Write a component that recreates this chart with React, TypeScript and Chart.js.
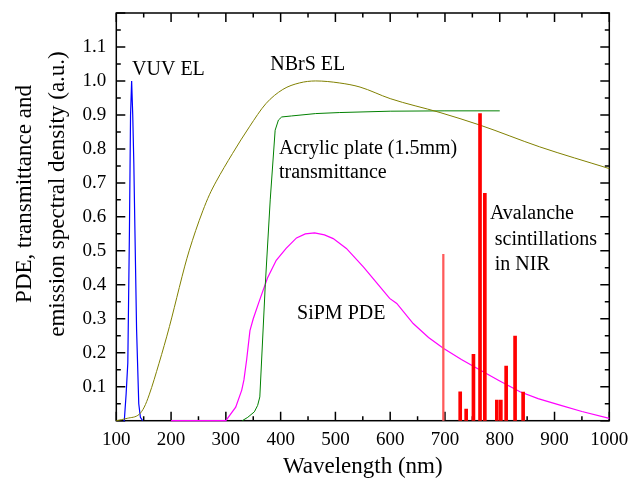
import React, { useEffect, useRef } from 'react';
import { Chart, registerables } from 'chart.js';

Chart.register(...registerables);

const FONT = '"Liberation Serif", "Times New Roman", serif';

// ---- data ----
const vuvWavelength = [113, 114.6, 118, 121, 124, 126, 128, 130, 132, 134, 137, 141, 144, 148];
const vuvIntensity = [0, 0, 0.08, 0.17, 0.56, 0.9, 1.0, 0.9, 0.757, 0.56, 0.27, 0.05, 0.01, 0];

const nbrsWavelength = [100, 120, 142, 151, 160, 178, 197, 215, 225, 233, 245, 258, 270, 282, 312, 343, 373, 404, 434, 464, 508, 545, 600, 691, 764, 873, 1000];
const nbrsIntensity = [0, 0.007, 0.019, 0.04, 0.076, 0.169, 0.277, 0.392, 0.455, 0.5, 0.56, 0.618, 0.665, 0.703, 0.786, 0.865, 0.933, 0.975, 0.994, 1.0, 0.994, 0.982, 0.948, 0.907, 0.87, 0.806, 0.742];

const acrylicWavelength = [330, 340, 352, 358, 362, 372, 381, 390, 396, 402, 420, 464, 508, 600, 700, 800];
const acrylicTransmittance = [0, 0.01, 0.026, 0.045, 0.07, 0.4, 0.65, 0.855, 0.885, 0.894, 0.897, 0.904, 0.907, 0.911, 0.912, 0.912];

const pdeWavelength = [200, 300, 318, 329, 333, 338, 344, 350, 361, 376, 392, 410, 429, 445, 462, 480, 496, 520, 551, 580, 599, 612, 642, 670, 697, 730, 764, 800, 837, 870, 910, 950, 1000];
const pdeValue = [0, 0, 0.04, 0.09, 0.12, 0.18, 0.265, 0.3, 0.352, 0.42, 0.472, 0.507, 0.538, 0.55, 0.553, 0.547, 0.536, 0.507, 0.453, 0.397, 0.36, 0.345, 0.286, 0.245, 0.213, 0.18, 0.149, 0.117, 0.085, 0.065, 0.046, 0.027, 0.007];

const nirLineWavelength = [727.8, 738.7, 752, 764, 772.8, 794.7, 802, 811.7, 828, 842.7];
const nirLineIntensity = [0.085, 0.034, 0.195, 0.904, 0.669, 0.061, 0.061, 0.161, 0.249, 0.084];
const nirWeakWavelength = [697];
const nirWeakIntensity = [0.49];

const X_MIN = 100, X_MAX = 1000, X_STEP = 100, X_MINOR = 50;
const Y_MIN = 0, Y_MAX = 1.2, Y_STEP = 0.1;

const annotations = [
  { text: 'VUV EL', x: 128.8, y: 1.017 },
  { text: 'NBrS EL', x: 381, y: 1.033 },
  { text: 'Acrylic plate (1.5mm)', x: 397, y: 0.786 },
  { text: 'transmittance', x: 397, y: 0.713 },
  { text: 'SiPM PDE', x: 430, y: 0.298 },
  { text: 'Avalanche', x: 782, y: 0.593 },
  { text: 'scintillations', x: 791, y: 0.517 },
  { text: 'in NIR', x: 791, y: 0.443 },
];
const yTitleLines = ['PDE, transmittance and', 'emission spectral density (a.u.)'];
const xTitle = 'Wavelength (nm)';

const zip = (xs: number[], ys: number[]) => xs.map((x, i) => ({ x, y: ys[i] }));

const framePlugin = {
  id: 'frameTicks',
  beforeDatasetsDraw(chart: any) {
    const { ctx, chartArea: a, scales } = chart;
    const x = scales.x, y = scales.y;
    const MAJOR = 9, MINOR = 4.5;
    ctx.save();
    ctx.strokeStyle = '#000';
    ctx.lineWidth = 1.5;
    ctx.beginPath();
    const nx = Math.round((X_MAX - X_MIN) / X_MINOR);
    for (let i = 0; i <= nx; i++) {
      const v = X_MIN + i * X_MINOR;
      const px = x.getPixelForValue(v);
      const len = i % 2 === 0 ? MAJOR : MINOR;
      ctx.moveTo(px, a.bottom); ctx.lineTo(px, a.bottom - len);
      ctx.moveTo(px, a.top); ctx.lineTo(px, a.top + len);
    }
    const ny = Math.round((Y_MAX - Y_MIN) / (Y_STEP / 2));
    for (let i = 0; i <= ny; i++) {
      const v = Y_MIN + i * (Y_STEP / 2);
      const py = y.getPixelForValue(v);
      const len = i % 2 === 0 ? MAJOR : MINOR;
      ctx.moveTo(a.left, py); ctx.lineTo(a.left + len, py);
      ctx.moveTo(a.right, py); ctx.lineTo(a.right - len, py);
    }
    ctx.stroke();
    ctx.strokeRect(a.left, a.top, a.right - a.left, a.bottom - a.top);
    ctx.restore();
  },
  afterDraw(chart: any) {
    const { ctx, scales } = chart;
    const x = scales.x, y = scales.y;
    ctx.save();
    ctx.fillStyle = '#000';
    ctx.font = `20px ${FONT}`;
    ctx.textAlign = 'left';
    ctx.textBaseline = 'alphabetic';
    annotations.forEach((an) => {
      ctx.fillText(an.text, x.getPixelForValue(an.x), y.getPixelForValue(an.y));
    });
    // y-axis title
    ctx.font = `23px ${FONT}`;
    ctx.textAlign = 'center';
    const cy = 194;
    const baselines = [31, 63.5];
    yTitleLines.forEach((line, i) => {
      ctx.save();
      ctx.translate(baselines[i], cy);
      ctx.rotate(-Math.PI / 2);
      ctx.fillText(line, 0, 0);
      ctx.restore();
    });
    ctx.restore();
  },
};

const zeroPad = (s: any) => {
  s.paddingLeft = 0;
  s.paddingRight = 0;
  s.paddingTop = 0;
  s.paddingBottom = 0;
};

export default function App() {
  const ref = useRef<HTMLCanvasElement | null>(null);
  useEffect(() => {
    if (!ref.current) return;
    const chart = new Chart(ref.current, {
      type: 'line',
      data: {
        datasets: [
          {
            type: 'bar',
            label: 'NIR weak',
            data: zip(nirWeakWavelength, nirWeakIntensity),
            backgroundColor: '#ff5a5a',
            borderWidth: 0,
            barThickness: 1.6,
            grouped: false,
          } as any,
          {
            type: 'bar',
            label: 'Avalanche scintillations in NIR',
            data: zip(nirLineWavelength, nirLineIntensity),
            backgroundColor: '#ff0000',
            borderWidth: 0,
            barThickness: 3,
            grouped: false,
          } as any,
          {
            label: 'NBrS EL',
            data: zip(nbrsWavelength, nbrsIntensity),
            borderColor: '#808000',
            borderWidth: 1,
            pointRadius: 0,
            cubicInterpolationMode: 'monotone',
            clip: false,
          },
          {
            label: 'Acrylic',
            data: zip(acrylicWavelength, acrylicTransmittance),
            borderColor: '#008000',
            borderWidth: 1,
            pointRadius: 0,
            tension: 0,
            clip: false,
          },
          {
            label: 'SiPM PDE',
            data: zip(pdeWavelength, pdeValue),
            borderColor: '#ff00ff',
            borderWidth: 1.2,
            pointRadius: 0,
            tension: 0,
            clip: false,
          },
          {
            label: 'VUV EL',
            data: zip(vuvWavelength, vuvIntensity),
            borderColor: '#0000ff',
            borderWidth: 1.2,
            pointRadius: 0,
            tension: 0,
            clip: false,
          },
        ],
      },
      options: {
        animation: false,
        responsive: false,
        devicePixelRatio: 1,
        layout: { padding: { top: 13, right: 22.7, left: 0, bottom: 0 } },
        plugins: { legend: { display: false }, tooltip: { enabled: false } },
        scales: {
          x: {
            type: 'linear',
            min: X_MIN,
            max: X_MAX,
            offset: false,
            grid: { display: false, drawTicks: false },
            border: { display: false },
            ticks: {
              stepSize: X_STEP,
              autoSkip: false,
              maxRotation: 0,
              padding: 8,
              color: '#000',
              font: { family: FONT, size: 19 },
              callback: (v: any) => String(Math.round(Number(v))),
            },
            title: {
              display: true,
              text: xTitle,
              color: '#000',
              font: { family: FONT, size: 23, lineHeight: 1 },
              padding: { top: 0, bottom: 1.5 },
            },
            afterFit: (s: any) => { s.height = 59.3; zeroPad(s); },
          },
          y: {
            type: 'linear',
            min: Y_MIN,
            max: Y_MAX,
            grid: { display: false, drawTicks: false },
            border: { display: false },
            ticks: {
              stepSize: Y_STEP,
              autoSkip: false,
              padding: 10,
              color: '#000',
              font: { family: FONT, size: 19 },
              callback: (v: any) => {
                const n = Number(v);
                if (n < 0.05 || n > 1.15) return '';
                return n.toFixed(1);
              },
            },
            afterFit: (s: any) => { s.width = 116.3; zeroPad(s); },
          },
        },
      },
      plugins: [framePlugin],
    } as any);
    return () => chart.destroy();
  }, []);
  return (
    <div style={{ position: 'absolute', left: 0, top: 0, width: 632, height: 480, background: '#fff' }}>
      <canvas ref={ref} width={632} height={480} />
    </div>
  );
}
